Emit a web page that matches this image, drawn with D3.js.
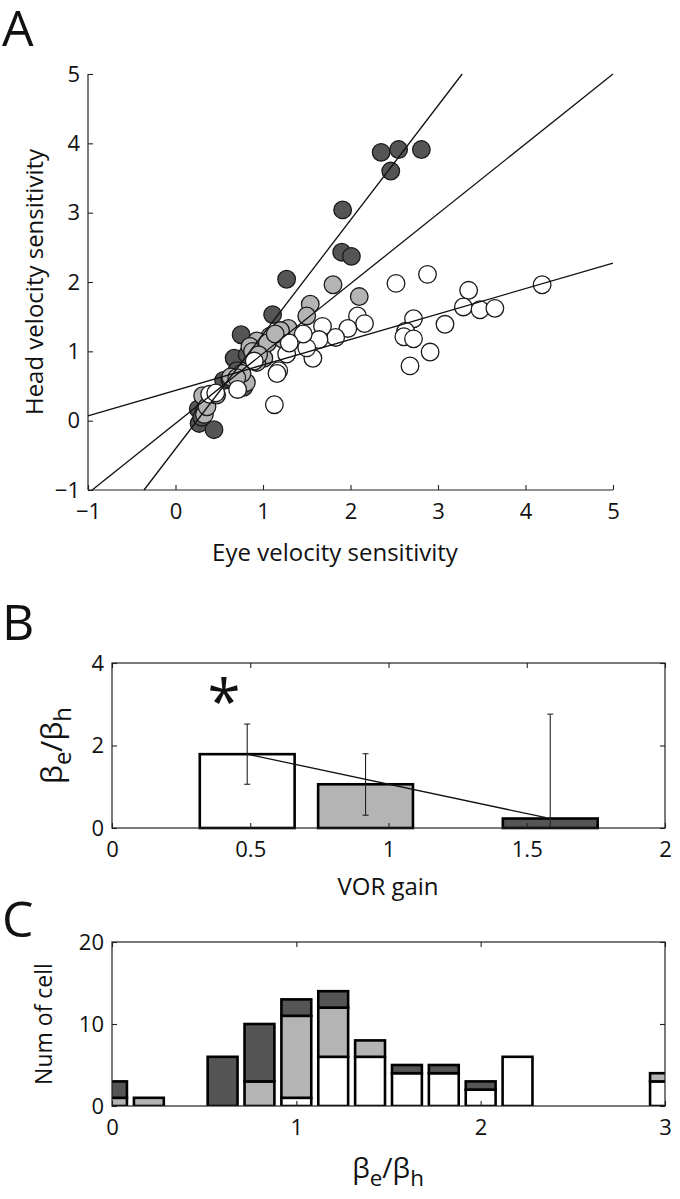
<!DOCTYPE html>
<html><head><meta charset="utf-8">
<script src="https://cdn.jsdelivr.net/npm/d3@7"></script>
<style>
body{margin:0;background:#fff}
svg{display:block}
text{font-family:"Open Sans",sans-serif;fill:#111}
</style>
</head><body>
<svg id="fig" width="680" height="1199"></svg>
<script>
// ---------- Panel A data ----------
const darkEye  = [2.35,2.55,2.81,2.46,1.91,1.90,2.01,1.27,1.11,0.75,0.67,0.55,0.65,0.78,0.26,0.27,0.44,0.33,0.70,0.82,0.30,0.62];
const darkHead = [3.87,3.91,3.91,3.60,3.04,2.43,2.37,2.04,1.53,1.24,0.90,0.58,0.63,0.48,0.17,-0.04,-0.13,0.15,0.72,0.95,0.05,0.60];
const grayEye  = [1.80,2.10,1.54,1.50,1.29,1.08,1.23,0.93,0.85,1.01,0.93,0.81,0.63,0.31,0.33,0.36,0.76,1.20,0.88,1.05,0.70,0.95,0.47,1.14];
const grayHead = [1.96,1.79,1.68,1.51,1.33,1.22,1.17,1.15,1.07,0.90,0.84,0.55,0.63,0.36,0.09,0.20,0.68,1.30,1.00,1.12,0.62,0.95,0.37,1.25];
const whiteEye  = [2.52,2.88,4.19,3.35,3.29,3.48,3.65,3.08,2.72,2.63,2.61,2.72,2.91,2.68,2.08,2.16,1.97,1.83,1.68,1.64,1.57,1.50,1.46,1.27,1.30,1.18,1.16,1.13,0.71,0.39,0.46,0.90];
const whiteHead = [1.98,2.11,1.96,1.88,1.64,1.60,1.62,1.39,1.47,1.29,1.21,1.18,0.99,0.79,1.51,1.40,1.33,1.20,1.36,1.17,0.90,1.05,1.25,0.96,1.12,0.72,0.68,0.23,0.45,0.38,0.40,0.86];
const fitSlope     = [1.65, 1.008, 0.367];
const fitIntercept = [-0.406, -0.04, 0.437];
const ticksA = [-1,0,1,2,3,4,5];

// ---------- Panel B data ----------
const vorGain   = [0.489, 0.917, 1.585];
const gainRatio = [1.79, 1.06, 0.23];
const errLow    = [1.06, 0.31, -2.3];
const errHigh   = [2.52, 1.80, 2.76];
const trendX    = [0.489, 1.57];
const trendY    = [1.79, 0.25];
const starPos   = [0.405, 3.28];
const ticksBx = [0,0.5,1,1.5,2];
const ticksBy = [0,2,4];

// ---------- Panel C data ----------
const binCenters = [0,0.2,0.6,0.8,1.0,1.2,1.4,1.6,1.8,2.0,2.2,3.0];
const histWhite  = [0,0,0,0,1,6,6,4,4,2,6,3];
const histGray   = [1,1,0,3,10,6,2,0,0,0,0,1];
const histDark   = [2,0,6,7,2,2,0,1,1,1,0,0];
const ticksCx = [0,1,2,3];
const ticksCy = [0,10,20];

const DARK = "#555555", GRAY = "#b4b4b4", WHITE = "#ffffff", INK = "#222";
const svg = d3.select("#fig");

function styleAxis(g, fs){
  g.selectAll(".domain").remove();
  g.selectAll(".tick line").attr("stroke", INK).attr("stroke-width", 1.1);
  g.selectAll(".tick text").attr("font-size", fs).attr("fill","#111")
    .style("font-family",'"Open Sans",sans-serif');
}
function subLabel(sel, fs){
  sel.append("tspan").text("β");
  sel.append("tspan").text("e").attr("font-size", fs*0.8).attr("dy", fs*0.3);
  sel.append("tspan").text("/").attr("dy", -fs*0.3);
  sel.append("tspan").text("β");
  sel.append("tspan").text("h").attr("font-size", fs*0.8).attr("dy", fs*0.3);
}

// ================= Panel A =================
{
  const L=88, R=613, T=74, B=490;
  const x = d3.scaleLinear().domain([-1,5]).range([L,R]);
  const y = d3.scaleLinear().domain([-1,5]).range([B,T]);
  svg.append("text").text("A").attr("x",2).attr("y",46).attr("font-size",50);

  const gx = svg.append("g").attr("transform",`translate(0,${B})`)
    .call(d3.axisBottom(x).tickValues(ticksA).tickSizeInner(-5).tickSizeOuter(0).tickPadding(13).tickFormat(d3.format("d")));
  styleAxis(gx, 22);
  const gy = svg.append("g").attr("transform",`translate(${L},0)`)
    .call(d3.axisLeft(y).tickValues(ticksA).tickSizeInner(-5).tickSizeOuter(0).tickPadding(8).tickFormat(d3.format("d")));
  styleAxis(gy, 22);
  svg.append("line").attr("x1",L).attr("x2",L).attr("y1",T).attr("y2",B).attr("stroke",INK).attr("stroke-width",1.2);
  svg.append("line").attr("x1",L).attr("x2",R).attr("y1",B).attr("y2",B).attr("stroke",INK).attr("stroke-width",1.2);

  svg.append("text").text("Eye velocity sensitivity").attr("x",335).attr("y",561)
    .attr("text-anchor","middle").attr("font-size",24);
  svg.append("text").text("Head velocity sensitivity")
    .attr("transform",`translate(43,${(T+B)/2}) rotate(-90)`).attr("text-anchor","middle").attr("font-size",24);

  const groups = [[darkEye,darkHead,DARK],[grayEye,grayHead,GRAY],[whiteEye,whiteHead,WHITE]];
  groups.forEach(([ex,hy,col])=>{
    svg.append("g").selectAll("circle").data(ex.map((v,i)=>[v,hy[i]])).join("circle")
      .attr("cx",d=>x(d[0])).attr("cy",d=>y(d[1])).attr("r",8.8)
      .attr("fill",col).attr("stroke","#1a1a1a").attr("stroke-width",1.3);
  });

  // regression lines clipped to axes box
  fitSlope.forEach((m,i)=>{
    const b = fitIntercept[i];
    let x0 = Math.max(-1, (-1-b)/m), x1 = Math.min(5, (5-b)/m);
    svg.append("line").attr("x1",x(x0)).attr("y1",y(m*x0+b)).attr("x2",x(x1)).attr("y2",y(m*x1+b))
      .attr("stroke","#111").attr("stroke-width",1.3);
  });
}

// ================= Panel B =================
{
  const L=112, R=665, T=663, B=828;
  const x = d3.scaleLinear().domain([0,2]).range([L,R]);
  const y = d3.scaleLinear().domain([0,4]).range([B,T]);
  svg.append("text").text("B").attr("x",2).attr("y",640).attr("font-size",50);
  svg.append("clipPath").attr("id","clipB").append("rect").attr("x",L).attr("y",T).attr("width",R-L).attr("height",B-T);

  const cols = [WHITE, GRAY, DARK];
  const bw = 0.343;
  svg.append("g").selectAll("rect").data(vorGain).join("rect")
    .attr("x",(d)=>x(d-bw/2)).attr("width",x(bw)-x(0))
    .attr("y",(d,i)=>y(gainRatio[i])).attr("height",(d,i)=>y(0)-y(gainRatio[i]))
    .attr("fill",(d,i)=>cols[i]).attr("stroke","#000").attr("stroke-width",2.6);

  const eg = svg.append("g").attr("clip-path","url(#clipB)");
  vorGain.forEach((g,i)=>{
    eg.append("line").attr("x1",x(g)).attr("x2",x(g)).attr("y1",y(errLow[i])).attr("y2",y(errHigh[i])).attr("stroke","#222").attr("stroke-width",1.1);
    [errLow[i],errHigh[i]].forEach(v=>{
      eg.append("line").attr("x1",x(g)-3).attr("x2",x(g)+3).attr("y1",y(v)).attr("y2",y(v)).attr("stroke","#222").attr("stroke-width",1.1);
    });
  });
  svg.append("line").attr("x1",x(trendX[0])).attr("y1",y(trendY[0])).attr("x2",x(trendX[1])).attr("y2",y(trendY[1]))
    .attr("stroke","#111").attr("stroke-width",1.3);

  svg.append("text").text("*").attr("x",x(starPos[0])).attr("y",y(starPos[1])+30).attr("text-anchor","middle")
    .attr("font-size",60).attr("font-family","DejaVu Sans");

  const gx = svg.append("g").attr("transform",`translate(0,${B})`)
    .call(d3.axisBottom(x).tickValues(ticksBx).tickSizeInner(-5).tickSizeOuter(0).tickPadding(13).tickFormat(d3.format("~g")));
  styleAxis(gx, 22);
  const gt = svg.append("g").attr("transform",`translate(0,${T})`)
    .call(d3.axisTop(x).tickValues(ticksBx).tickSizeInner(-5).tickSizeOuter(0).tickFormat(""));
  styleAxis(gt, 22);
  const gy = svg.append("g").attr("transform",`translate(${L},0)`)
    .call(d3.axisLeft(y).tickValues(ticksBy).tickSizeInner(-5).tickSizeOuter(0).tickPadding(8).tickFormat(d3.format("d")));
  styleAxis(gy, 22);
  const gr = svg.append("g").attr("transform",`translate(${R},0)`)
    .call(d3.axisRight(y).tickValues(ticksBy).tickSizeInner(-5).tickSizeOuter(0).tickFormat(""));
  styleAxis(gr, 22);
  svg.append("rect").attr("x",L).attr("y",T).attr("width",R-L).attr("height",B-T)
    .attr("fill","none").attr("stroke",INK).attr("stroke-width",1.2);

  svg.append("text").text("VOR gain").attr("x",388).attr("y",895).attr("text-anchor","middle").attr("font-size",24);
  const yl = svg.append("text").attr("transform",`translate(62,${(T+B)/2}) rotate(-90)`).attr("text-anchor","middle").attr("font-size",30);
  subLabel(yl, 30);
}

// ================= Panel C =================
{
  const L=112, R=665, T=942, B=1106;
  const x = d3.scaleLinear().domain([0,3]).range([L,R]);
  const y = d3.scaleLinear().domain([0,20]).range([B,T]);
  svg.append("text").text("C").attr("x",2).attr("y",937).attr("font-size",50);
  svg.append("clipPath").attr("id","clipC").append("rect").attr("x",L).attr("y",T).attr("width",R-L).attr("height",B-T);

  const bw = 0.162;
  const segs = [];
  binCenters.forEach((c,i)=>{
    let base = 0;
    [[histWhite[i],WHITE],[histGray[i],GRAY],[histDark[i],DARK]].forEach(([n,col])=>{
      if(n>0){ segs.push({c, y0:base, y1:base+n, col}); base+=n; }
    });
  });
  svg.append("g").attr("clip-path","url(#clipC)").selectAll("rect").data(segs).join("rect")
    .attr("x",d=>x(d.c-bw/2)).attr("width",x(bw)-x(0))
    .attr("y",d=>y(d.y1)).attr("height",d=>y(d.y0)-y(d.y1))
    .attr("fill",d=>d.col).attr("stroke","#000").attr("stroke-width",2.6);

  const gx = svg.append("g").attr("transform",`translate(0,${B})`)
    .call(d3.axisBottom(x).tickValues(ticksCx).tickSizeInner(-5).tickSizeOuter(0).tickPadding(13).tickFormat(d3.format("d")));
  styleAxis(gx, 22);
  const gt = svg.append("g").attr("transform",`translate(0,${T})`)
    .call(d3.axisTop(x).tickValues(ticksCx).tickSizeInner(-5).tickSizeOuter(0).tickFormat(""));
  styleAxis(gt, 22);
  const gy = svg.append("g").attr("transform",`translate(${L},0)`)
    .call(d3.axisLeft(y).tickValues(ticksCy).tickSizeInner(-5).tickSizeOuter(0).tickPadding(8).tickFormat(d3.format("d")));
  styleAxis(gy, 22);
  const gr = svg.append("g").attr("transform",`translate(${R},0)`)
    .call(d3.axisRight(y).tickValues(ticksCy).tickSizeInner(-5).tickSizeOuter(0).tickFormat(""));
  styleAxis(gr, 22);
  svg.append("rect").attr("x",L).attr("y",T).attr("width",R-L).attr("height",B-T)
    .attr("fill","none").attr("stroke",INK).attr("stroke-width",1.2);

  const xl = svg.append("text").attr("x",388).attr("y",1178).attr("text-anchor","middle").attr("font-size",28);
  subLabel(xl, 28);
  svg.append("text").text("Num of cell").attr("transform",`translate(52,${(T+B)/2}) rotate(-90)`).attr("text-anchor","middle").attr("font-size",23);
}
</script>
</body></html>
